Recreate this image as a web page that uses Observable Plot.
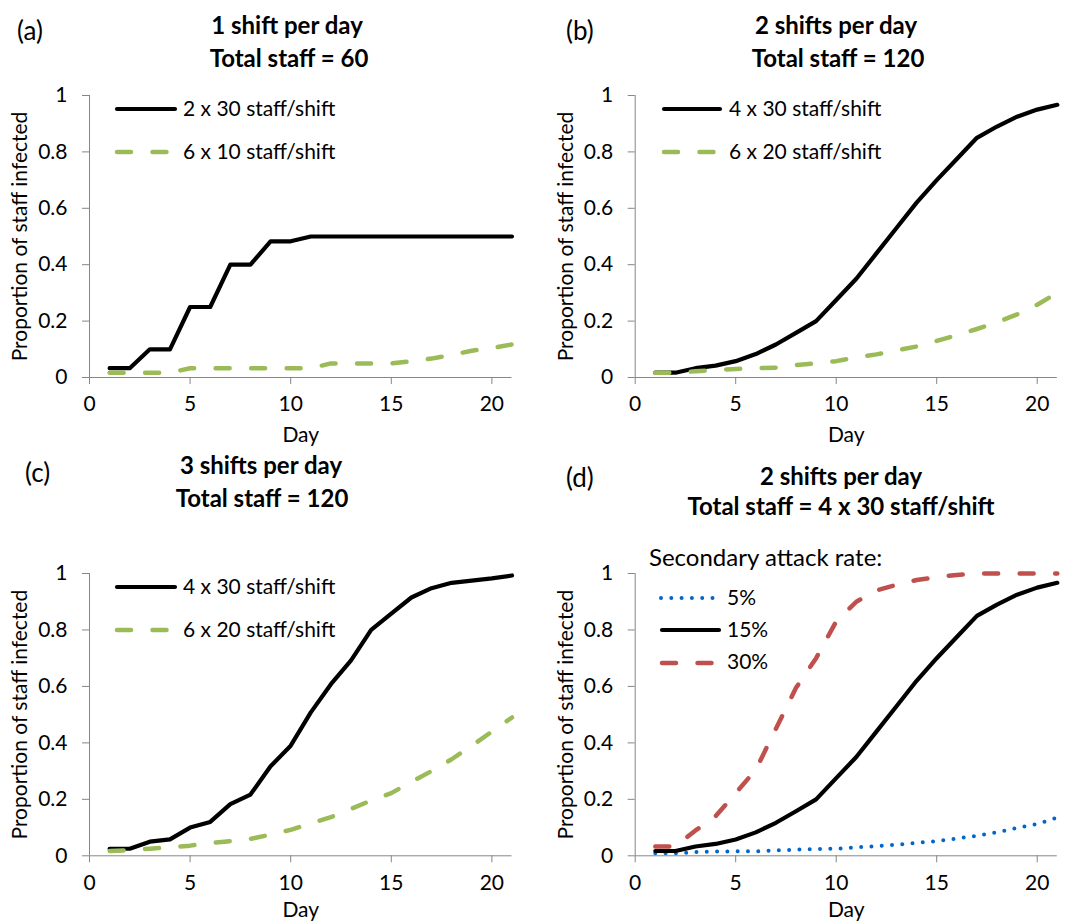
<!DOCTYPE html>
<html><head><meta charset="utf-8">
<script src="https://cdn.jsdelivr.net/npm/d3@7"></script>
<script src="https://cdn.jsdelivr.net/npm/@observablehq/plot@0.6"></script>
<style>
html,body{margin:0;padding:0;background:#fff;}
#root{position:relative;width:1068px;height:922px;overflow:hidden;font-family:Lato,sans-serif;}
.panel{position:absolute;}
#overlay{position:absolute;left:0;top:0;pointer-events:none;}
</style></head><body><div id="root"></div>
<script>
// ---- data ----
const days = [1,2,3,4,5,6,7,8,9,10,11,12,13,14,15,16,17,18,19,20,21];
const xTicks = [0,5,10,15,20];
const yTicks = [0,0.2,0.4,0.6,0.8,1];

// (a) 1 shift per day, total staff = 60
const a_2x30 = [0.033,0.033,0.1,0.1,0.25,0.25,0.4,0.4,0.483,0.483,0.5,0.5,0.5,0.5,0.5,0.5,0.5,0.5,0.5,0.5,0.5];
const a_6x10 = [0.017,0.017,0.017,0.017,0.033,0.033,0.033,0.033,0.033,0.033,0.033,0.05,0.05,0.05,0.05,0.058,0.067,0.08,0.095,0.105,0.117];
// (b) 2 shifts per day, total staff = 120
const b_4x30 = [0.017,0.017,0.033,0.042,0.058,0.083,0.117,0.158,0.2,0.275,0.35,0.44,0.53,0.62,0.7,0.775,0.85,0.89,0.925,0.95,0.967];
const b_6x20 = [0.017,0.017,0.022,0.027,0.03,0.033,0.035,0.044,0.05,0.058,0.072,0.082,0.096,0.11,0.13,0.15,0.172,0.196,0.224,0.258,0.3];
// (c) 3 shifts per day, total staff = 120
const c_4x30 = [0.025,0.025,0.05,0.058,0.1,0.12,0.183,0.217,0.317,0.39,0.508,0.608,0.692,0.8,0.858,0.915,0.948,0.967,0.975,0.983,0.993];
const c_6x20 = [0.017,0.02,0.025,0.03,0.036,0.045,0.052,0.06,0.075,0.092,0.115,0.137,0.166,0.196,0.222,0.262,0.3,0.342,0.39,0.44,0.49];
// (d) 2 shifts per day, 4 x 30 staff/shift, by secondary attack rate
const d_5 = [0.009,0.009,0.013,0.015,0.016,0.016,0.019,0.022,0.024,0.025,0.03,0.034,0.039,0.046,0.052,0.061,0.071,0.083,0.099,0.113,0.135];
const d_15 = [0.017,0.017,0.033,0.042,0.058,0.083,0.117,0.158,0.2,0.275,0.35,0.44,0.53,0.62,0.7,0.775,0.85,0.89,0.925,0.95,0.967];
const d_30 = [0.033,0.033,0.09,0.14,0.222,0.305,0.45,0.595,0.7,0.83,0.9,0.94,0.96,0.977,0.987,0.995,1,1,1,1,1];

const legendA = ["2 x 30 staff/shift","6 x 10 staff/shift"];
const legendB = ["4 x 30 staff/shift","6 x 20 staff/shift"];
const legendC = ["4 x 30 staff/shift","6 x 20 staff/shift"];
const legendD = ["5%","15%","30%"];

// ---- styles ----
const BLACK = {stroke:"#000", strokeWidth:4.2, dash:null};
const GREEN = {stroke:"#9BBB59", strokeWidth:4.5, dash:"14,21.5"};
const RED   = {stroke:"#C0504D", strokeWidth:4.5, dash:"14,21.5"};
const BLUE  = {stroke:"#0066CC", strokeWidth:4, dash:"0,10.3"};
const FONT = "Lato, sans-serif";
const FS = 21;

const root = document.getElementById("root");

function panel({left, top, mLeft, mRight, mTop, mBottom, dayOffset, series}) {
  const marks = [
    Plot.ruleY([0], {stroke:"#868686", strokeWidth:1}),
    Plot.ruleX([0], {stroke:"#868686", strokeWidth:1}),
    Plot.axisX({ticks:xTicks, tickSize:7, tickPadding:12, stroke:"#868686", fill:"#000",
      label:"Day", labelArrow:"none", labelAnchor:"center", labelOffset:dayOffset}),
    Plot.axisY({ticks:yTicks, tickSize:7, tickPadding:15, tickFormat:d=>String(d), stroke:"#868686", fill:"#000",
      label:"Proportion of staff infected", labelArrow:"none", labelAnchor:"center", labelOffset:77}),
  ];
  for (const s of series) {
    const data = days.map((d,i)=>({day:d, value:s.values[i]}));
    marks.push(Plot.line(data, {x:"day", y:"value", stroke:s.style.stroke, strokeWidth:s.style.strokeWidth,
      strokeDasharray:s.style.dash || undefined, strokeLinecap:"round", strokeLinejoin:"round"}));
  }
  const svg = Plot.plot({
    width:534, height:461,
    marginLeft:mLeft, marginRight:mRight, marginTop:mTop, marginBottom:mBottom,
    x:{domain:[0,21]}, y:{domain:[0,1]},
    style:{fontSize:FS+"px", fontFamily:FONT, background:"transparent", overflow:"visible", color:"#000"},
    marks
  });
  const div = document.createElement("div");
  div.className = "panel";
  div.style.left = left+"px"; div.style.top = top+"px";
  div.appendChild(svg);
  root.appendChild(div);
}

panel({left:0, top:0, mLeft:89, mRight:22.5, mTop:95, mBottom:84, dayOffset:64,
  series:[{values:a_2x30, style:BLACK},{values:a_6x10, style:GREEN}]});
panel({left:534, top:0, mLeft:100.7, mRight:11.2, mTop:95, mBottom:84, dayOffset:64,
  series:[{values:b_4x30, style:BLACK},{values:b_6x20, style:GREEN}]});
panel({left:0, top:461, mLeft:89, mRight:22.5, mTop:112, mBottom:66.7, dayOffset:61,
  series:[{values:c_4x30, style:BLACK},{values:c_6x20, style:GREEN}]});
panel({left:534, top:461, mLeft:100.7, mRight:11.2, mTop:112, mBottom:66.7, dayOffset:61,
  series:[{values:d_5, style:BLUE},{values:d_15, style:BLACK},{values:d_30, style:RED}]});

// ---- titles and legends overlay ----
const ov = d3.create("svg").attr("id","overlay").attr("width",1068).attr("height",922)
  .attr("font-family", FONT).attr("font-size", FS);
function txt(x, y, s, opts={}) {
  ov.append("text").attr("x",x).attr("y",y).text(s)
    .attr("text-anchor", opts.anchor || "start")
    .attr("font-weight", opts.bold ? "bold" : null)
    .attr("font-size", opts.size || null)
    .attr("fill","#000");
}
function swatch(x1, x2, y, st) {
  ov.append("line").attr("x1",x1).attr("x2",x2).attr("y1",y).attr("y2",y)
    .attr("stroke",st.stroke).attr("stroke-width",st.strokeWidth)
    .attr("stroke-dasharray",st.dash).attr("stroke-linecap","round");
}
const TS = 24, LS = 26;
// panel letters
txt(17, 40, "(a)", {size:LS}); txt(566, 40, "(b)", {size:LS});
txt(25, 482, "(c)", {size:LS}); txt(566, 487, "(d)", {size:LS});
// titles
txt(287, 34, "1 shift per day", {anchor:"middle", bold:true, size:TS});
txt(289, 67, "Total staff = 60", {anchor:"middle", bold:true, size:TS});
txt(836, 34, "2 shifts per day", {anchor:"middle", bold:true, size:TS});
txt(838, 67, "Total staff = 120", {anchor:"middle", bold:true, size:TS});
txt(261, 474, "3 shifts per day", {anchor:"middle", bold:true, size:TS});
txt(262, 507, "Total staff = 120", {anchor:"middle", bold:true, size:TS});
txt(841, 485, "2 shifts per day", {anchor:"middle", bold:true, size:TS});
txt(841, 515, "Total staff = 4 x 30 staff/shift", {anchor:"middle", bold:true, size:TS});
txt(649, 566, "Secondary attack rate:", {size:TS});
// legends
swatch(117, 175, 109, BLACK); txt(183, 116, legendA[0]);
swatch(117, 170, 152, GREEN); txt(183, 159, legendA[1]);
swatch(664, 720, 109, BLACK); txt(729, 116, legendB[0]);
swatch(664, 715, 152, GREEN); txt(729, 159, legendB[1]);
swatch(117, 175, 587, BLACK); txt(183, 594, legendC[0]);
swatch(117, 170, 630, GREEN); txt(183, 637, legendC[1]);
swatch(661, 716, 598, BLUE);  txt(727, 605, legendD[0]);
swatch(662, 719, 630, BLACK); txt(727, 637, legendD[1]);
swatch(662, 714, 663, RED);   txt(727, 669, legendD[2]);
root.appendChild(ov.node());
</script>
</body></html>
